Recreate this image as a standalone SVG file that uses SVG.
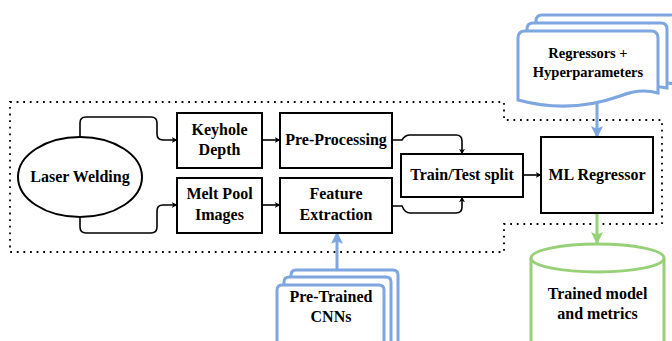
<svg xmlns="http://www.w3.org/2000/svg" width="672" height="341" viewBox="0 0 672 341">
<style>
.box{fill:#fff;stroke:#000;stroke-width:2}
text{font-family:'Liberation Serif','DejaVu Serif',serif;font-weight:700;font-size:16px;fill:#000;text-anchor:middle}
.ts{font-size:14.5px}
.c{fill:none;stroke:#000;stroke-width:1.6}
.dot{fill:none;stroke:#000;stroke-width:1.8;stroke-dasharray:1.8 4.8}
.blue{fill:#fff;stroke:#7ea6e0;stroke-width:3}
.green{fill:#fff;stroke:#97d077;stroke-width:3}
</style>
<defs>
<marker id="ah" viewBox="0 0 10 10" refX="9" refY="5" markerWidth="6" markerHeight="6" markerUnits="userSpaceOnUse" orient="auto"><path d="M0,0 L10,5 L0,10 L3,5 Z" fill="#000"/></marker>
<marker id="ab" viewBox="0 0 10 10" refX="9" refY="5" markerWidth="4" markerHeight="4" orient="auto"><path d="M0,0 L10,5 L0,10 L2,5 Z" fill="#7ea6e0"/></marker>
<marker id="ag" viewBox="0 0 10 10" refX="9" refY="5" markerWidth="4" markerHeight="4" orient="auto"><path d="M0,0 L10,5 L0,10 L2,5 Z" fill="#97d077"/></marker>
</defs>

<g id="boundary">
<path class="dot" d="M10,102 H504 V120 H662 V224 H504 V252 H10 Z"/>
</g>

<g id="connectors">
<path class="c" marker-end="url(#ah)" d="M80,137 V123 Q80,117 86,117 H151 Q157,117 157,123 V134 Q157,140 163,140 H177"/>
<path class="c" marker-end="url(#ah)" d="M80,217 V227 Q80,233 86,233 H151 Q157,233 157,227 V211 Q157,205 163,205 H177"/>
<path class="c" marker-end="url(#ah)" d="M262,140 H280"/>
<path class="c" marker-end="url(#ah)" d="M262,205 H280"/>
<path class="c" marker-end="url(#ah)" d="M392,140 H402 Q405,135 410,135 H456 Q462,135 462,141 V154"/>
<path class="c" marker-end="url(#ah)" d="M392,206 H402 Q405,213 410,213 H456 Q462,213 462,207 V197"/>
<path class="c" marker-end="url(#ah)" d="M523,175 H541"/>
<path fill="none" stroke="#7ea6e0" stroke-width="3" marker-end="url(#ab)" d="M597,103 V137"/>
<path fill="none" stroke="#7ea6e0" stroke-width="3" marker-end="url(#ab)" d="M337,270 V233"/>
<path fill="none" stroke="#97d077" stroke-width="3" marker-end="url(#ag)" d="M597,213 V243"/>
</g>

<g id="laser-welding">
<ellipse class="box" cx="80" cy="177" rx="62" ry="40"/>
<text x="80" y="182">Laser Welding</text>
</g>

<g id="keyhole-depth">
<rect class="box" x="177" y="113" width="85" height="55"/>
<text x="219.5" y="135">Keyhole</text>
<text x="219.5" y="155">Depth</text>
</g>

<g id="melt-pool-images">
<rect class="box" x="177" y="178" width="85" height="55"/>
<text x="219.5" y="199">Melt Pool</text>
<text x="219.5" y="220">Images</text>
</g>

<g id="pre-processing">
<rect class="box" x="280" y="113" width="112" height="55"/>
<text x="336" y="145">Pre-Processing</text>
</g>

<g id="feature-extraction">
<rect class="box" x="280" y="178" width="112" height="55"/>
<text x="336" y="199">Feature</text>
<text x="336" y="220">Extraction</text>
</g>

<g id="train-test-split">
<rect class="box" x="401" y="154" width="122" height="43"/>
<text x="462" y="180">Train/Test split</text>
</g>

<g id="ml-regressor">
<rect class="box" x="541" y="137" width="112" height="76"/>
<text x="597" y="180">ML Regressor</text>
</g>

<g id="regressors-hyperparameters">
<path class="blue" d="M536,86 V21 Q536,15 542,15 H674 V84 Q655,80 640,86 Q600,100 536,86 Z"/>
<path class="blue" d="M527,94 V29 Q527,23 533,23 H661 Q667,23 667,29 V88 Q648,84 632,92 Q590,108 527,94 Z"/>
<path class="blue" d="M518,100 V38 Q518,31 525,31 H651 Q658,31 658,38 V93 Q640,88 620,96 Q570,114 518,100 Z"/>
<text class="ts" x="588" y="58">Regressors +</text>
<text class="ts" x="588" y="77">Hyperparameters</text>
</g>

<g id="pre-trained-cnns">
<path class="blue" d="M291,345 V275 Q291,270 296,270 H393 Q398,270 398,275 V345 Z"/>
<path class="blue" d="M284,345 V282 Q284,277 289,277 H386 Q391,277 391,282 V345 Z"/>
<path class="blue" d="M277,345 V290 Q277,285 282,285 H379 Q384,285 384,290 V345 Z"/>
<text x="331" y="302">Pre-Trained</text>
<text x="331" y="322">CNNs</text>
</g>

<g id="trained-model">
<path class="green" d="M531,258 V345 H664 V258"/>
<ellipse class="green" cx="597.5" cy="258" rx="66.5" ry="14"/>
<text x="597.5" y="299">Trained model</text>
<text x="597.5" y="319">and metrics</text>
</g>
</svg>
